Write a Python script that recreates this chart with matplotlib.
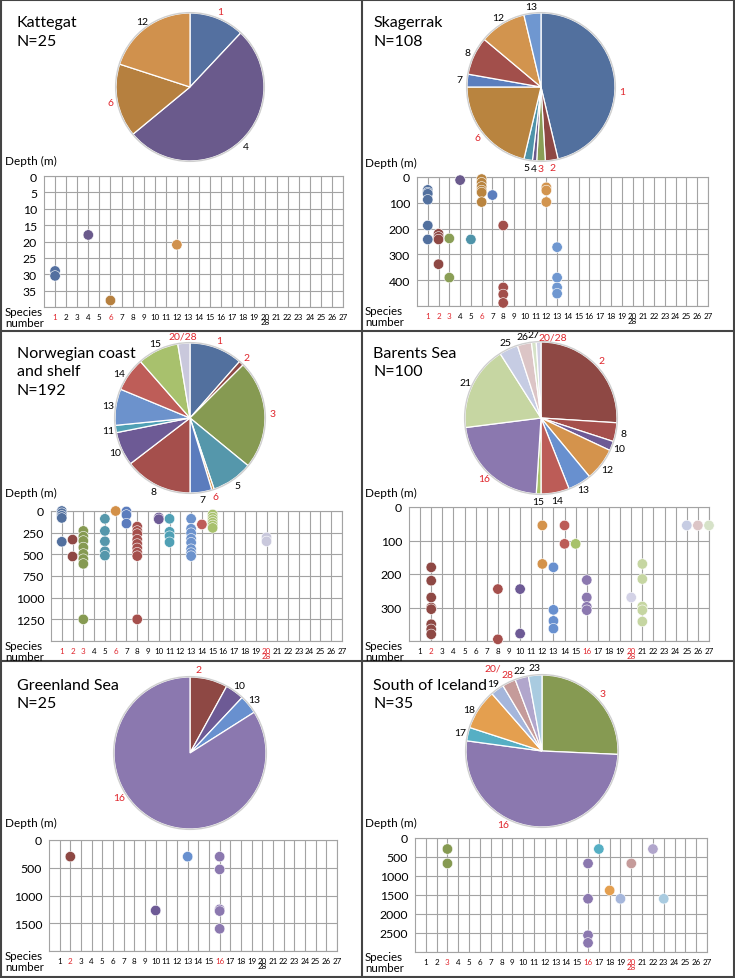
import matplotlib

matplotlib.use("Agg")
import matplotlib.pyplot as plt
import numpy as np
from matplotlib.lines import Line2D
from matplotlib.patches import Circle

plt.rcParams["font.family"] = ["Lato", "DejaVu Sans"]

W, H = 735, 979
RED = "#e0262d"
GRID = "#a3a3a3"

# ---- Kattegat ----
KAT_PIE = ["1", "4", "6", "12"]
KAT_COUNTS = [3, 13, 4, 5]
KAT_COLORS = ["#5470a0", "#6a5a8c", "#b6803f", "#d0914d"]
KAT_SP = [1, 1, 4, 6, 12]
KAT_DEPTH = [29, 30.5, 18, 38, 21]
KAT_RED = [1, 6]

# ---- Skagerrak ----
SKA_PIE = ["1", "2", "3", "4", "5", "6", "7", "8", "12", "13"]
SKA_COUNTS = [50, 3, 2, 1, 2, 23, 3, 9, 11, 4]
SKA_COLORS = ["#52709e", "#8e4844", "#8a9e56", "#6a5a8c", "#4e93a9",
              "#b9843f", "#5b7ebe", "#a24f4b", "#d2944e", "#6f97d0"]
SKA_SP = [1, 1, 1, 1, 1, 1, 2, 2, 2, 2, 3, 3, 4, 5, 6, 6, 6, 6, 6, 6,
          7, 8, 8, 8, 8, 12, 12, 12, 13, 13, 13, 13]
SKA_DEPTH = [50, 60, 65, 88, 188, 242, 220, 232, 242, 338, 238, 390, 12, 242,
             8, 22, 38, 52, 60, 97, 70, 188, 428, 455, 488, 40, 52, 97,
             272, 390, 428, 452]
SKA_RED = [1, 2, 3, 6]

# ---- Norwegian coast and shelf ----
NOR_PIE = ["1", "2", "3", "5", "6", "7", "8", "10", "11", "13", "14", "15", "20/28"]
NOR_COUNTS = [22, 2, 45, 17, 1, 9, 28, 14, 3, 15, 14, 17, 5]
NOR_COLORS = ["#52709e", "#8e4844", "#869a52", "#5597ab", "#d39048", "#5b7cbd",
              "#a54f4c", "#6d5a95", "#50a0b5", "#6c92cc", "#be5d58", "#a8c16d",
              "#c9c8dc"]
NOR_SP = [1, 1, 1, 1, 1, 2, 2, 3, 3, 3, 3, 3, 3, 3, 3, 5, 5, 5, 5, 5, 6, 7, 7, 7,
          8, 8, 8, 8, 8, 8, 8, 8, 8, 10, 10, 11, 11, 11, 11,
          13, 13, 13, 13, 13, 13, 13, 13, 14, 15, 15, 15, 15, 15, 15, 20, 20]
NOR_DEPTH = [0, 25, 55, 80, 355, 330, 525, 230, 295, 345, 420, 495, 555, 610, 1250,
             90, 230, 350, 465, 515, 0, 5, 45, 145,
             180, 230, 265, 330, 380, 430, 480, 520, 1250, 75, 95, 90, 240, 290, 360,
             90, 205, 255, 320, 365, 440, 485, 520, 155, 40, 75, 105, 135, 165, 195,
             305, 350]
NOR_RED = [1, 2, 3, 6, 20]

# ---- Barents Sea ----
BAR_PIE = ["2", "8", "10", "12", "13", "14", "15", "16", "21", "25", "26", "27", "20/28"]
BAR_COUNTS = [26, 4, 2, 7, 5, 6, 1, 22, 18, 4, 3, 1, 1]
BAR_COLORS = ["#8e4844", "#a54f4c", "#6d5a95", "#d4934c", "#6890cf", "#bc5c57",
              "#a7c26a", "#8b78af", "#c6d6a2", "#c6cce3", "#dcc5c6", "#d6e2c8",
              "#d3d2e6"]
BAR_SP = [2, 2, 2, 2, 2, 2, 2, 2, 8, 8, 10, 10, 12, 12, 13, 13, 13, 13, 14, 14, 15,
          16, 16, 16, 16, 20, 21, 21, 21, 21, 21, 25, 26, 27]
BAR_DEPTH = [180, 220, 270, 300, 305, 350, 365, 380, 245, 395, 245, 378, 55, 170,
             180, 307, 340, 363, 55, 110, 110, 218, 270, 298, 308, 270,
             170, 215, 297, 308, 342, 55, 55, 55]
BAR_RED = [2, 16, 20]

# ---- Greenland Sea ----
GRE_PIE = ["2", "10", "13", "16"]
GRE_COUNTS = [2, 1, 1, 21]
GRE_COLORS = ["#8e4844", "#6d5a95", "#6890cf", "#8b78af"]
GRE_SP = [2, 10, 13, 16, 16, 16, 16, 16]
GRE_DEPTH = [300, 1270, 300, 300, 530, 1250, 1280, 1600]
GRE_RED = [2, 16]

# ---- South of Iceland ----
SIC_PIE = ["3", "16", "17", "18", "19", "20/28", "22", "23"]
SIC_COUNTS = [9, 18, 1, 3, 1, 1, 1, 1]
SIC_COLORS = ["#869a52", "#8b78af", "#56afc4", "#e49f4f", "#a5b6db", "#c59b9a",
              "#b1a6cc", "#a9cbe0"]
SIC_SP = [3, 3, 16, 16, 16, 16, 17, 18, 19, 20, 22, 23]
SIC_DEPTH = [290, 670, 670, 1600, 2560, 2760, 290, 1380, 1600, 670, 290, 1600]
SIC_RED = [3, 16, 20]

# layout in pixels of the 735x979 image; lab_pos = label -> (angle from top, distance)
PANELS = [
    dict(title=["Kattegat", "N=25"], txy=(17, 16), pie=(190, 88, 74),
         labels=KAT_PIE, counts=KAT_COUNTS, colors=KAT_COLORS, sp=KAT_SP, depth=KAT_DEPTH,
         red=KAT_RED, box=(44, 177, 343, 308), ymax=40, ystep=5, dxy=(5, 161),
         lab_pos={}, split=[]),
    dict(title=["Skagerrak", "N=108"], txy=(373, 16), pie=(541, 88, 74),
         labels=SKA_PIE, counts=SKA_COUNTS, colors=SKA_COLORS, sp=SKA_SP, depth=SKA_DEPTH,
         red=SKA_RED, box=(417, 178, 708, 307), ymax=500, ystep=100, dxy=(365, 163),
         lab_pos={"1": (93, 1.1)}, split=[]),
    dict(title=["Norwegian coast", "and shelf", "N=192"], txy=(17, 347), pie=(190, 419, 75),
         labels=NOR_PIE, counts=NOR_COUNTS, colors=NOR_COLORS, sp=NOR_SP, depth=NOR_DEPTH,
         red=NOR_RED, box=(51, 512, 342, 642), ymax=1500, ystep=250, dxy=(5, 493),
         lab_pos={"14": (302, 1.12)}, split=[]),
    dict(title=["Barents Sea", "N=100"], txy=(373, 347), pie=(541, 419, 76),
         labels=BAR_PIE, counts=BAR_COUNTS, colors=BAR_COLORS, sp=BAR_SP, depth=BAR_DEPTH,
         red=BAR_RED, box=(409, 508, 709, 642), ymax=400, ystep=100, dxy=(365, 493),
         lab_pos={"20/28": (8, 1.07)}, split=[]),
    dict(title=["Greenland Sea", "N=25"], txy=(17, 679), pie=(190, 754, 76),
         labels=GRE_PIE, counts=GRE_COUNTS, colors=GRE_COLORS, sp=GRE_SP, depth=GRE_DEPTH,
         red=GRE_RED, box=(49, 841, 337, 952), ymax=2000, ystep=500, dxy=(5, 823),
         lab_pos={"2": (6, 1.1), "16": (238, 1.1)}, split=[]),
    dict(title=["South of Iceland", "N=35"], txy=(373, 679), pie=(542, 752, 76),
         labels=SIC_PIE, counts=SIC_COUNTS, colors=SIC_COLORS, sp=SIC_SP, depth=SIC_DEPTH,
         red=SIC_RED, box=(415, 839, 707, 953), ymax=3000, ystep=500, dxy=(365, 823),
         lab_pos={"16": (208, 1.1), "18": (300, 1.1), "20/28": (333, 1.18)},
         split=["20/28"]),
]


def px_axes(fig, left, top, right, bottom):
    return fig.add_axes([left / W, 1 - bottom / H, (right - left) / W, (bottom - top) / H])


def draw_pie(fig, p):
    cx, cy, r = p["pie"]
    pad = 1.3
    ax = px_axes(fig, cx - pad * r, cy - pad * r, cx + pad * r, cy + pad * r)
    ax.pie(p["counts"], colors=p["colors"], startangle=90, counterclock=False,
           wedgeprops=dict(edgecolor="white", linewidth=0.9))
    ax.add_patch(Circle((0, 0), 1.005, facecolor="none", edgecolor="#cfcfcf", lw=1.0))
    ax.set_xlim(-pad, pad)
    ax.set_ylim(-pad, pad)
    ax.set_aspect("equal")
    ax.axis("off")
    frac = np.cumsum([0] + list(p["counts"])) / sum(p["counts"])
    for i, lab in enumerate(p["labels"]):
        ang, dist = p["lab_pos"].get(lab, (360 * (frac[i] + frac[i + 1]) / 2, 1.1))
        t = np.radians(ang)
        x, y = dist * np.sin(t), dist * np.cos(t)
        col = RED if int(lab.split("/")[0]) in p["red"] else "black"
        if lab in p["split"]:
            a, b = lab.split("/")
            ax.text(x, y + 0.045, a + "/", ha="right", va="center", fontsize=7.5, color=col)
            ax.text(x, y - 0.045, b, ha="left", va="center", fontsize=7.5, color=col)
        else:
            ax.text(x, y, lab, ha="center", va="center", fontsize=7.5, color=col)


def draw_depth(fig, p):
    ax = px_axes(fig, *p["box"])
    cmap = {int(l.split("/")[0]): c for l, c in zip(p["labels"], p["colors"])}
    ax.scatter(p["sp"], p["depth"], s=56, c=[cmap[s] for s in p["sp"]],
               edgecolors="white", linewidths=0.4, zorder=3, clip_on=False)
    ax.set_xlim(0, 27)
    ax.set_ylim(p["ymax"], 0)
    xs = list(range(1, 28))
    xl = [str(i) for i in xs]
    xl[19] = "20\n28"
    ax.set_xticks(xs)
    ax.set_xticklabels(xl, fontsize=5.8, linespacing=0.75)
    for t, i in zip(ax.get_xticklabels(), xs):
        if i in p["red"]:
            t.set_color(RED)
    yt = np.arange(0, p["ymax"] + p["ystep"], p["ystep"])
    ax.set_yticks(yt)
    ax.set_yticklabels([f"{v:g}" for v in yt[:-1]] + [""], fontsize=8.8)
    ax.tick_params(length=0, axis="y", pad=5)
    ax.tick_params(length=0, axis="x", pad=4)
    ax.grid(True, color=GRID, lw=0.8)
    ax.set_axisbelow(True)
    for s in ax.spines.values():
        s.set_color(GRID)
        s.set_linewidth(0.8)
    dx, dy = p["dxy"]
    fig.text(dx / W, 1 - dy / H, "Depth (m)", fontsize=8.5, ha="left", va="center")
    fig.text(dx / W, 1 - (p["box"][3] - 1) / H, "Species\nnumber", fontsize=8.3,
             ha="left", va="top", linespacing=0.95)


fig = plt.figure(figsize=(W / 100, H / 100), dpi=100)
for p in PANELS:
    draw_pie(fig, p)
    draw_depth(fig, p)
    tx, ty = p["txy"]
    for k, line in enumerate(p["title"]):
        fig.text(tx / W, 1 - (ty + 18.5 * k) / H, line, fontsize=11.5,
                 ha="left", va="top")

# panel frames
for (x0, y0, x1, y1) in [(362, 0, 362, H), (0, 332, W, 332), (0, 662, W, 662),
                         (1, 0, 1, H), (W - 1, 0, W - 1, H), (0, 1, W, 1), (0, H - 1, W, H - 1)]:
    fig.add_artist(Line2D([x0 / W, x1 / W], [1 - y0 / H, 1 - y1 / H],
                          transform=fig.transFigure, color="#444444", lw=1.5))

fig.savefig("out.png", dpi=100)
